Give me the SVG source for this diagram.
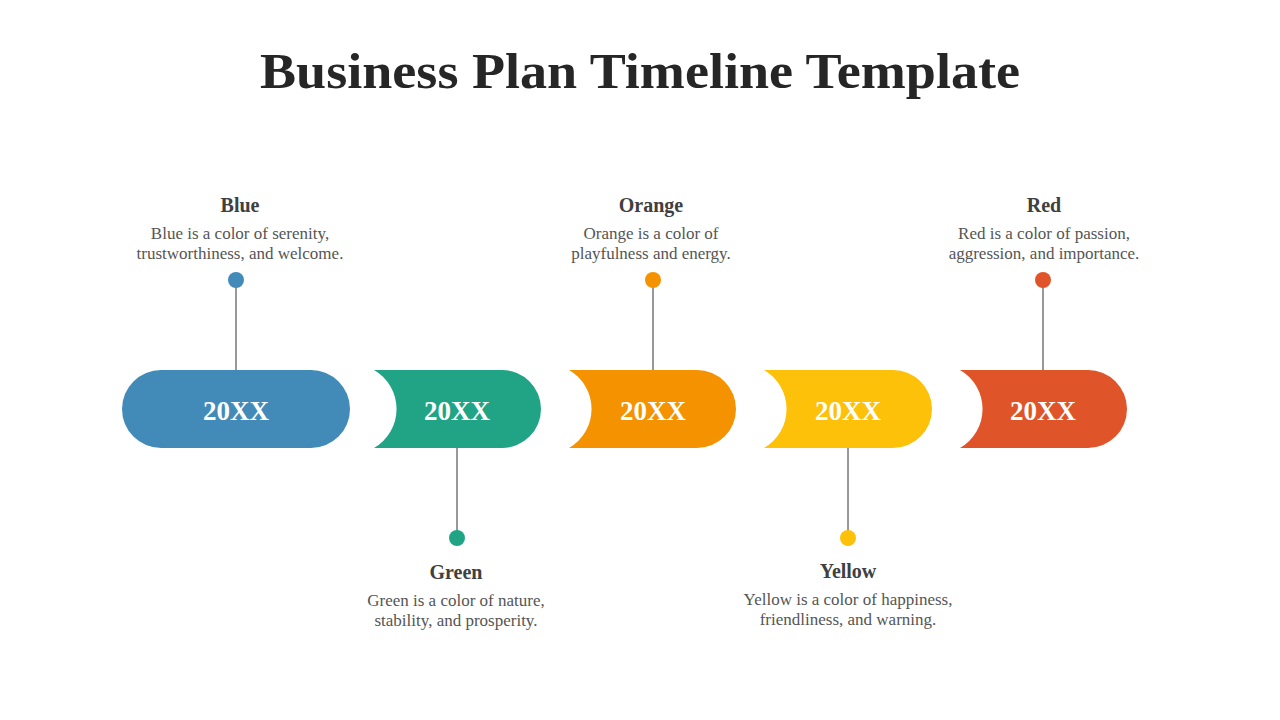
<svg xmlns="http://www.w3.org/2000/svg" width="1280" height="720" viewBox="0 0 1280 720">
<style>
.t{font-family:"Liberation Serif","DejaVu Serif",serif;fill:#262626;font-weight:bold}
.h{font-family:"Liberation Serif","DejaVu Serif",serif;font-weight:bold;font-size:20px;fill:#404040;text-anchor:middle}
.d{font-family:"Liberation Serif","DejaVu Serif",serif;font-size:17px;fill:#555;text-anchor:middle}
.y{font-family:"Liberation Serif","DejaVu Serif",serif;font-weight:bold;font-size:27px;fill:#fff;text-anchor:middle}
.l{stroke:#333;stroke-width:1}
</style>
<rect width="1280" height="720" fill="#fff"/>
<text class="t" x="640" y="88" font-size="50" text-anchor="middle" textLength="760" lengthAdjust="spacingAndGlyphs">Business Plan Timeline Template</text>
<g id="connectors">
<line class="l" x1="236" y1="280" x2="236" y2="370"/>
<line class="l" x1="457" y1="448" x2="457" y2="538"/>
<line class="l" x1="653" y1="280" x2="653" y2="370"/>
<line class="l" x1="848" y1="448" x2="848" y2="538"/>
<line class="l" x1="1043" y1="280" x2="1043" y2="370"/>
</g>
<g id="n1">
<rect x="122" y="370" width="228" height="78" rx="39" fill="#428BB8"/>
<text class="y" x="236" y="420">20XX</text>
<circle cx="236" cy="280" r="8" fill="#428BB8"/>
<text class="h" x="240" y="212">Blue</text>
<text class="d" x="240" y="239">Blue is a color of serenity,</text>
<text class="d" x="240" y="259">trustworthiness, and welcome.</text>
</g>
<g id="n2">
<path d="M374 370 H502 A39 39 0 0 1 502 448 H374 A45 45 0 0 0 374 370 Z" fill="#21A386"/>
<text class="y" x="457" y="420">20XX</text>
<circle cx="457" cy="538" r="8" fill="#21A386"/>
<text class="h" x="456" y="579">Green</text>
<text class="d" x="456" y="606">Green is a color of nature,</text>
<text class="d" x="456" y="626">stability,  and prosperity.</text>
</g>
<g id="n3">
<path d="M569 370 H697 A39 39 0 0 1 697 448 H569 A45 45 0 0 0 569 370 Z" fill="#F59200"/>
<text class="y" x="653" y="420">20XX</text>
<circle cx="653" cy="280" r="8" fill="#F59200"/>
<text class="h" x="651" y="212">Orange</text>
<text class="d" x="651" y="239">Orange is a color of</text>
<text class="d" x="651" y="259">playfulness and energy.</text>
</g>
<g id="n4">
<path d="M764 370 H893 A39 39 0 0 1 893 448 H764 A45 45 0 0 0 764 370 Z" fill="#FDC10A"/>
<text class="y" x="848" y="420">20XX</text>
<circle cx="848" cy="538" r="8" fill="#FDC10A"/>
<text class="h" x="848" y="578">Yellow</text>
<text class="d" x="848" y="605">Yellow is a color of happiness,</text>
<text class="d" x="848" y="625">friendliness, and warning.</text>
</g>
<g id="n5">
<path d="M960 370 H1088 A39 39 0 0 1 1088 448 H960 A45 45 0 0 0 960 370 Z" fill="#E05429"/>
<text class="y" x="1043" y="420">20XX</text>
<circle cx="1043" cy="280" r="8" fill="#E05429"/>
<text class="h" x="1044" y="212">Red</text>
<text class="d" x="1044" y="239">Red is a color of passion,</text>
<text class="d" x="1044" y="259">aggression, and importance.</text>
</g>
</svg>
